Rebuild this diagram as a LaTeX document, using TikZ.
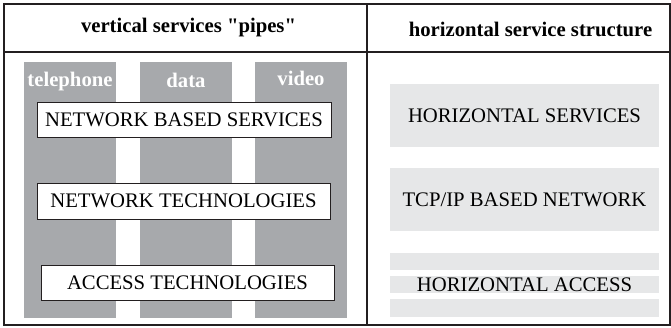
\documentclass[tikz,border=0pt]{standalone}
\usepackage{fontspec}
\setmainfont{Liberation Serif}[Ligatures=TeXOff]
\usetikzlibrary{positioning}
\definecolor{pipegray}{RGB}{167,169,172}
\definecolor{lightgray}{RGB}{230,231,232}
\definecolor{framegray}{RGB}{35,31,32}
\begin{document}
\begin{tikzpicture}[x=1pt,y=-1pt,
	pipe/.style={rectangle,fill=pipegray,inner sep=0pt,minimum width=92pt,minimum height=256pt},
	pipelabel/.style={text=white,font=\fontsize{20.7}{21}\selectfont\bfseries,inner sep=0pt},
	layer/.style={rectangle,draw=framegray,line width=0.8pt,fill=white,inner sep=0pt,minimum width=293pt,minimum height=35pt,font=\fontsize{20.7}{21}\selectfont},
	hlayer/.style={rectangle,fill=lightgray,inner sep=0pt,minimum width=269pt,minimum height=63pt,font=\fontsize{20.7}{21}\selectfont},
	strip/.style={rectangle,fill=lightgray,inner sep=0pt,minimum width=269pt,minimum height=17pt},
	heading/.style={font=\fontsize{20.7}{21}\selectfont\bfseries,inner sep=0pt}]
	\useasboundingbox (0,0) rectangle (671,327);

	\node[heading]								(vhead)	at (188.5,28)	{vertical services "pipes"};
	\node[heading]								(hhead)	at (530.5,29)	{horizontal service structure};

	\node[pipe]									(tel)	at (70,190)		{};
	\node[pipe]									(dat)	at (186,190)	{};
	\node[pipe]									(vid)	at (301,190)	{};
	\node[pipelabel,below=10pt of tel.north]	(tellab)	{telephone};
	\node[pipelabel,below=11pt of dat.north]	(datlab)	{data};
	\node[pipelabel,below=9pt of vid.north]		(vidlab)	{video};

	\node[layer,minimum width=294pt]			(nbs)	at (184,119.5)	{NETWORK BASED SERVICES};
	\node[layer,minimum height=36pt]			(ntech)	at (183.5,201)	{NETWORK TECHNOLOGIES};
	\node[layer]								(atech)	at (187.5,282.5){ACCESS TECHNOLOGIES};

	\node[hlayer]								(hserv)	at (524.5,115.5){HORIZONTAL SERVICES};
	\node[hlayer]								(tcpip)	at (524.5,199.5){TCP/IP BASED NETWORK};
	\node[strip]								(acc1)	at (524.5,261.5){};
	\node[strip,font=\fontsize{20.7}{21}\selectfont]	(acc2)	at (524.5,284.5){HORIZONTAL ACCESS};
	\node[strip,minimum height=18pt]			(acc3)	at (524.5,308)	{};

	\draw[framegray,line width=2pt] (4,4) rectangle (670,325);
	\draw[framegray,line width=2pt] (4,52) -- (670,52);
	\draw[framegray,line width=2pt] (367,4) -- (367,325);
\end{tikzpicture}
\end{document}
